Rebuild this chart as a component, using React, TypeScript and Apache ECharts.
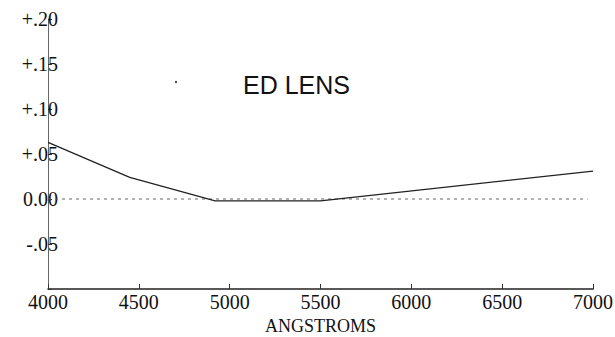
import React, { useEffect, useRef } from "react";
import * as echarts from "echarts";

const wavelengths = [4000, 4450, 4920, 5500, 7000];
const focusShift = [0.063, 0.024, -0.002, -0.002, 0.031];
const zeroLineX = [4000, 6970];
const yTickLabels: Record<string, string> = {
  "0.2": "+.20",
  "0.15": "+.15",
  "0.1": "+.10",
  "0.05": "+.05",
  "0": "0.00",
  "-0.05": "-.05",
  "-0.1": "",
};
const xAxisTitle = "ANGSTROMS";
const chartTitle = "ED LENS";

export default function App() {
  const ref = useRef<HTMLDivElement>(null);
  useEffect(() => {
    if (!ref.current) return;
    const chart = echarts.init(ref.current, null, { renderer: "svg" });
    const serif = "'Liberation Serif', 'DejaVu Serif', serif";
    chart.setOption({
      animation: false,
      backgroundColor: "#ffffff",
      title: {
        text: chartTitle,
        left: 238,
        top: 67,
        textStyle: {
          fontFamily: "'Liberation Sans', Arial, sans-serif",
          fontWeight: "normal",
          fontSize: 25,
          color: "#111",
        },
      },
      graphic: [
        {
          type: "circle",
          shape: { cx: 176, cy: 82, r: 1.2 },
          style: { fill: "#444" },
        },
      ],
      grid: {
        left: 48,
        right: 22,
        top: 19,
        bottom: 48,
        containLabel: false,
        outerBoundsMode: "none",
      },
      xAxis: {
        type: "value",
        min: 4000,
        max: 7000,
        interval: 500,
        name: xAxisTitle,
        nameLocation: "middle",
        nameGap: 28,
        nameTextStyle: { fontFamily: serif, fontSize: 18, lineHeight: 18, color: "#111" },
        axisLine: { onZero: false, lineStyle: { color: "#222", width: 1.5 } },
        axisTick: { inside: true, length: 5, lineStyle: { color: "#333" } },
        axisLabel: {
          fontFamily: serif,
          fontSize: 20,
          color: "#111",
          margin: 3,
          formatter: (v: number) => String(v),
        },
        splitLine: { show: false },
      },
      yAxis: {
        type: "value",
        min: -0.1,
        max: 0.2,
        interval: 0.05,
        axisLine: { show: true, lineStyle: { color: "#666", width: 1 } },
        axisTick: { show: true, length: 4, inside: true, lineStyle: { color: "#333" } },
        axisLabel: {
          fontFamily: serif,
          fontSize: 20,
          color: "#111",
          margin: -10,
          formatter: (v: number) => {
            const k = String(Math.round(v * 100) / 100);
            return yTickLabels[k] ?? "";
          },
        },
        splitLine: { show: false },
      },
      series: [
        {
          type: "line",
          data: zeroLineX.map((x) => [x, 0]),
          symbol: "none",
          lineStyle: { color: "#666", width: 1, type: [3, 4] },
          silent: true,
        },
        {
          type: "line",
          data: wavelengths.map((x, i) => [x, focusShift[i]]),
          symbol: "none",
          lineStyle: { color: "#222", width: 1.3 },
        },
      ],
    });
    return () => chart.dispose();
  }, []);
  return <div ref={ref} style={{ width: 615, height: 337, position: "absolute", left: 0, top: 0 }} />;
}
